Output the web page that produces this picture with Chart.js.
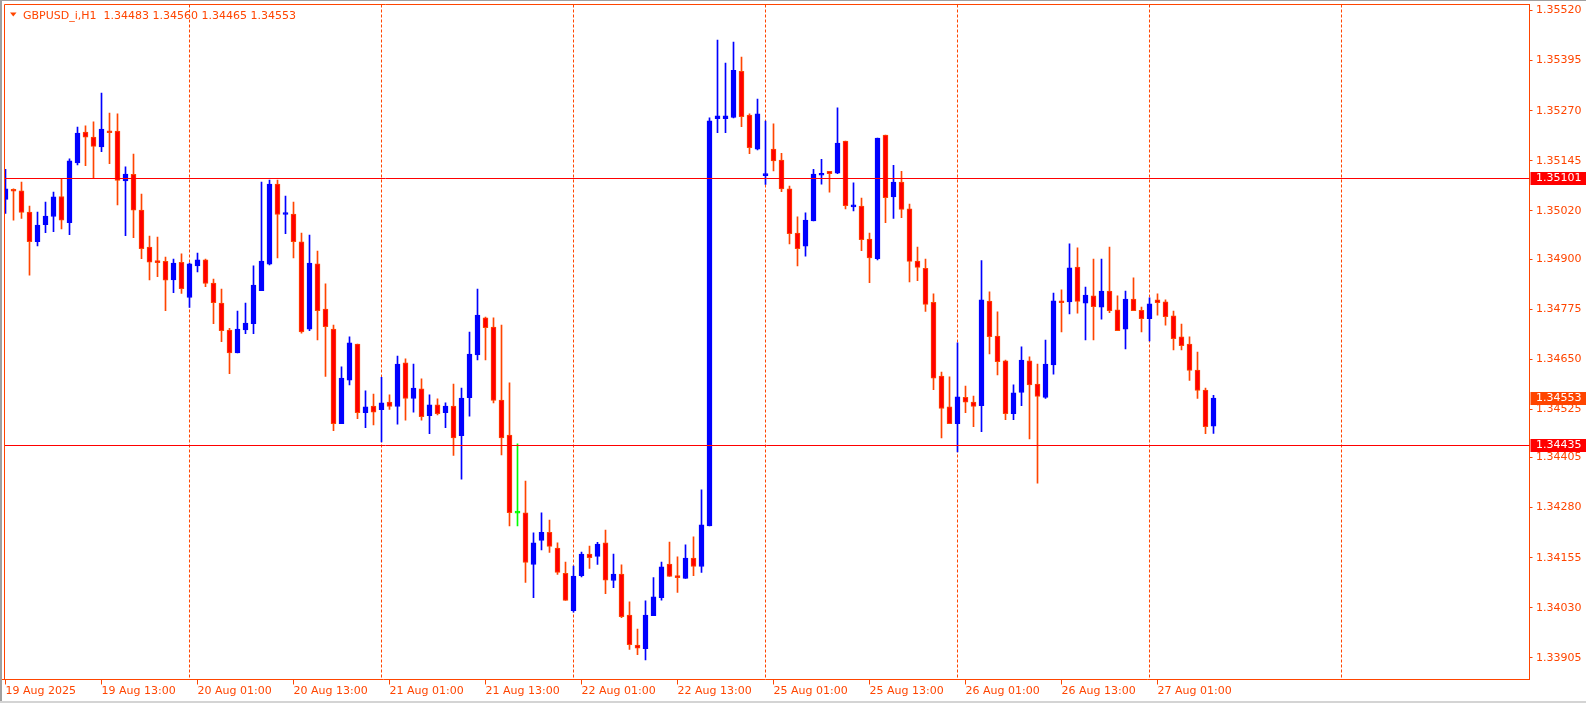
<!DOCTYPE html>
<html>
<head>
<meta charset="utf-8">
<script src="https://cdn.jsdelivr.net/npm/chart.js@4.4.1/dist/chart.umd.min.js"></script>
<style>
  html, body { margin: 0; padding: 0; background: #fff; overflow: hidden; }
</style>
</head>
<body>
<canvas id="chart" width="1586" height="703"></canvas>
<script>
// GBPUSD_i H1, 19 Aug 01:00 .. 27 Aug 08:00
const opens = [
  1.35049, 1.35072, 1.35070, 1.35017, 1.34943, 1.34986, 1.35006, 1.35056, 1.34991, 1.35140,
  1.35217, 1.35204, 1.35180, 1.35219, 1.35219, 1.35095, 1.35111, 1.35022, 1.34930, 1.34895,
  1.34894, 1.34848, 1.34892, 1.34804, 1.34883, 1.34898, 1.34840, 1.34790, 1.34723, 1.34666,
  1.34723, 1.34739, 1.34821, 1.34887, 1.35087, 1.35011, 1.35012, 1.34943, 1.34725, 1.34888,
  1.34775, 1.34725, 1.34489, 1.34598, 1.34688, 1.34517, 1.34533, 1.34524, 1.34543, 1.34532,
  1.34641, 1.34552, 1.34576, 1.34509, 1.34536, 1.34517, 1.34533, 1.34459, 1.34554, 1.34661,
  1.34753, 1.34730, 1.34548, 1.34461, 1.34266, 1.34267, 1.34138, 1.34198, 1.34218, 1.34179,
  1.34116, 1.34023, 1.34110, 1.34164, 1.34158, 1.34192, 1.34098, 1.34114, 1.34012, 1.33937,
  1.33928, 1.34010, 1.34055, 1.34139, 1.34110, 1.34103, 1.34154, 1.34133, 1.34234, 1.35250,
  1.35250, 1.35253, 1.35368, 1.35259, 1.35174, 1.35108, 1.35174, 1.35147, 1.35075, 1.34965,
  1.34932, 1.34995, 1.35109, 1.35119, 1.35114, 1.35194, 1.35030, 1.35032, 1.34950, 1.34901,
  1.35209, 1.35055, 1.35092, 1.35025, 1.34895, 1.34877, 1.34792, 1.34608, 1.34531, 1.34489,
  1.34555, 1.34543, 1.34534, 1.34795, 1.34708, 1.34646, 1.34514, 1.34567, 1.34646, 1.34588,
  1.34555, 1.34636, 1.34795, 1.34793, 1.34880, 1.34790, 1.34808, 1.34780, 1.34820, 1.34773,
  1.34725, 1.34800, 1.34772, 1.34751, 1.34798, 1.34793, 1.34758, 1.34706, 1.34688, 1.34623,
  1.34573, 1.34483
];
const highs = [
  1.35124, 1.35075, 1.35092, 1.35032, 1.35017, 1.35042, 1.35067, 1.35100, 1.35150, 1.35229,
  1.35232, 1.35242, 1.35314, 1.35264, 1.35262, 1.35130, 1.35162, 1.35062, 1.34957, 1.34955,
  1.34905, 1.34900, 1.34913, 1.34890, 1.34915, 1.34900, 1.34850, 1.34825, 1.34727, 1.34770,
  1.34790, 1.34883, 1.35092, 1.35097, 1.35097, 1.35057, 1.35042, 1.34965, 1.34960, 1.34920,
  1.34838, 1.34735, 1.34631, 1.34706, 1.34688, 1.34571, 1.34563, 1.34605, 1.34561, 1.34658,
  1.34651, 1.34638, 1.34601, 1.34561, 1.34551, 1.34541, 1.34588, 1.34578, 1.34718, 1.34825,
  1.34755, 1.34753, 1.34735, 1.34591, 1.34439, 1.34346, 1.34217, 1.34267, 1.34249, 1.34192,
  1.34144, 1.34134, 1.34169, 1.34184, 1.34193, 1.34224, 1.34164, 1.34137, 1.34045, 1.33977,
  1.34047, 1.34105, 1.34144, 1.34194, 1.34157, 1.34187, 1.34207, 1.34324, 1.35252, 1.35446,
  1.35389, 1.35441, 1.35404, 1.35262, 1.35299, 1.35244, 1.35237, 1.35164, 1.35082, 1.35005,
  1.35015, 1.35124, 1.35149, 1.35119, 1.35277, 1.35194, 1.35090, 1.35052, 1.34965, 1.35202,
  1.35209, 1.35134, 1.35119, 1.35037, 1.34930, 1.34900, 1.34813, 1.34618, 1.34606, 1.34691,
  1.34583, 1.34558, 1.34896, 1.34818, 1.34768, 1.34648, 1.34586, 1.34681, 1.34656, 1.34638,
  1.34698, 1.34815, 1.34823, 1.34938, 1.34928, 1.34830, 1.34900, 1.34900, 1.34930, 1.34808,
  1.34820, 1.34853, 1.34780, 1.34803, 1.34813, 1.34798, 1.34770, 1.34738, 1.34706, 1.34668,
  1.34578, 1.34560
];
const lows = [
  1.35014, 1.34997, 1.35001, 1.34860, 1.34933, 1.34966, 1.34968, 1.34975, 1.34961, 1.35135,
  1.35133, 1.35101, 1.35168, 1.35138, 1.35035, 1.34958, 1.34953, 1.34901, 1.34848, 1.34856,
  1.34771, 1.34816, 1.34814, 1.34779, 1.34868, 1.34831, 1.34739, 1.34694, 1.34614, 1.34666,
  1.34714, 1.34714, 1.34821, 1.34885, 1.34903, 1.34963, 1.34903, 1.34715, 1.34721, 1.34698,
  1.34607, 1.34472, 1.34489, 1.34586, 1.34502, 1.34479, 1.34486, 1.34444, 1.34525, 1.34488,
  1.34498, 1.34518, 1.34498, 1.34464, 1.34511, 1.34479, 1.34410, 1.34351, 1.34508, 1.34648,
  1.34648, 1.34541, 1.34411, 1.34234, 1.34234, 1.34093, 1.34055, 1.34174, 1.34168, 1.34113,
  1.34048, 1.34019, 1.34107, 1.34128, 1.34138, 1.34065, 1.34080, 1.34005, 1.33926, 1.33913,
  1.33900, 1.34010, 1.34049, 1.34108, 1.34068, 1.34103, 1.34110, 1.34118, 1.34234, 1.35215,
  1.35215, 1.35252, 1.35230, 1.35163, 1.35172, 1.35086, 1.35120, 1.35068, 1.34938, 1.34883,
  1.34907, 1.34995, 1.35087, 1.35067, 1.35113, 1.35025, 1.35020, 1.34921, 1.34841, 1.34898,
  1.34991, 1.35001, 1.35003, 1.34843, 1.34846, 1.34769, 1.34574, 1.34454, 1.34489, 1.34419,
  1.34517, 1.34482, 1.34469, 1.34663, 1.34611, 1.34499, 1.34499, 1.34534, 1.34451, 1.34341,
  1.34552, 1.34613, 1.34718, 1.34763, 1.34765, 1.34698, 1.34698, 1.34750, 1.34766, 1.34721,
  1.34676, 1.34771, 1.34718, 1.34696, 1.34760, 1.34735, 1.34673, 1.34673, 1.34597, 1.34552,
  1.34464, 1.34465
];
const closes = [
  1.35075, 1.35069, 1.35016, 1.34943, 1.34985, 1.35007, 1.35055, 1.34997, 1.35145, 1.35214,
  1.35204, 1.35181, 1.35224, 1.35215, 1.35096, 1.35112, 1.35022, 1.34926, 1.34892, 1.34891,
  1.34847, 1.34890, 1.34826, 1.34888, 1.34898, 1.34839, 1.34791, 1.34721, 1.34666, 1.34725,
  1.34740, 1.34835, 1.34895, 1.35087, 1.35011, 1.35013, 1.34943, 1.34718, 1.34890, 1.34771,
  1.34731, 1.34489, 1.34603, 1.34691, 1.34517, 1.34531, 1.34518, 1.34541, 1.34532, 1.34638,
  1.34552, 1.34578, 1.34507, 1.34536, 1.34514, 1.34533, 1.34454, 1.34553, 1.34663, 1.34760,
  1.34729, 1.34547, 1.34454, 1.34267, 1.34266, 1.34143, 1.34192, 1.34218, 1.34183, 1.34118,
  1.34048, 1.34109, 1.34164, 1.34155, 1.34189, 1.34099, 1.34114, 1.34008, 1.33938, 1.33929,
  1.34012, 1.34057, 1.34132, 1.34108, 1.34105, 1.34154, 1.34133, 1.34237, 1.35245, 1.35257,
  1.35257, 1.35371, 1.35255, 1.35178, 1.35262, 1.35112, 1.35145, 1.35075, 1.34963, 1.34926,
  1.34997, 1.35112, 1.35114, 1.35113, 1.35189, 1.35033, 1.35035, 1.34948, 1.34903, 1.35202,
  1.35053, 1.35092, 1.35024, 1.34894, 1.34879, 1.34787, 1.34603, 1.34527, 1.34489, 1.34556,
  1.34543, 1.34532, 1.34798, 1.34706, 1.34644, 1.34514, 1.34566, 1.34648, 1.34586, 1.34557,
  1.34638, 1.34796, 1.34791, 1.34878, 1.34794, 1.34810, 1.34781, 1.34820, 1.34771, 1.34721,
  1.34800, 1.34771, 1.34751, 1.34788, 1.34791, 1.34756, 1.34701, 1.34684, 1.34622, 1.34572,
  1.34482, 1.34553
];

const tradingDays = ['19 Aug', '20 Aug', '21 Aug', '22 Aug', '25 Aug', '26 Aug', '27 Aug', '28 Aug'];
const firstLabel = '19 Aug 2025';
const yTicks = [1.35520, 1.35395, 1.35270, 1.35145, 1.35020, 1.34900, 1.34775,
                1.34650, 1.34525, 1.34405, 1.34280, 1.34155, 1.34030, 1.33905];
const levels = [1.35101, 1.34435];
const lastPrice = 1.34553;
const title = 'GBPUSD_i,H1  1.34483 1.34560 1.34465 1.34553';

const fg = '#FF4500';
const bull = '#0000FF';
const bearFill = '#FF0000';
const dojiCol = '#00FF00';
const font = { family: 'DejaVu Sans', size: 11 };

// hourly slots, chart starts at 19 Aug 01:00
const times = [];
tradingDays.forEach((d, di) => {
  for (let h = di === 0 ? 1 : 0; h < 24; h++) times.push(d + ' ' + String(h).padStart(2, '0') + ':00');
});
const daySeps = times.map((t, i) => t.endsWith(' 00:00') ? i : -1).filter(i => i >= 0);

const kind = opens.map((o, i) => closes[i] > o ? 'up' : closes[i] < o ? 'down' : 'flat');
const bodyFill = kind.map(k => k === 'up' ? bull : k === 'down' ? bearFill : dojiCol);
const lineCol = kind.map(k => k === 'up' ? bull : k === 'down' ? fg : dojiCol);

const overlay = {
  id: 'overlay',
  beforeDatasetsDraw(chart) {
    const { ctx, chartArea: a, scales: { x } } = chart;
    ctx.save();
    ctx.strokeStyle = fg;
    ctx.lineWidth = 1;
    ctx.setLineDash([3, 2]);
    daySeps.forEach(i => {
      const px = x.getPixelForValue(i);
      ctx.beginPath();
      ctx.moveTo(px, a.top);
      ctx.lineTo(px, a.bottom);
      ctx.stroke();
    });
    ctx.restore();
  },
  afterDatasetsDraw(chart) {
    const { ctx, chartArea: a, scales: { y } } = chart;
    ctx.save();
    ctx.strokeStyle = '#FF0000';
    ctx.lineWidth = 1;
    levels.forEach(v => {
      const py = Math.floor(y.getPixelForValue(v)) + 0.5;
      ctx.beginPath();
      ctx.moveTo(4, py);
      ctx.lineTo(a.right, py);
      ctx.stroke();
    });
    ctx.restore();
  },
  afterDraw(chart) {
    const { ctx, chartArea: a, scales: { y } } = chart;
    ctx.save();
    // frame
    ctx.strokeStyle = fg;
    ctx.lineWidth = 1;
    ctx.beginPath();
    ctx.moveTo(4.5, a.bottom);
    ctx.lineTo(4.5, 4.5);
    ctx.lineTo(a.right, 4.5);
    ctx.stroke();
    // window edge
    ctx.fillStyle = '#a0a0a0';
    ctx.fillRect(0, 0, 2, 703);
    ctx.fillRect(0, 0, 1586, 1);
    ctx.fillStyle = '#d4d4d4';
    ctx.fillRect(0, 701, 1586, 2);

    // price tags on the axis
    ctx.font = '11px "DejaVu Sans"';
    ctx.textBaseline = 'middle';
    const tag = (v, col) => {
      const py = Math.floor(y.getPixelForValue(v));
      ctx.fillStyle = col;
      ctx.fillRect(a.right + 1, py - 6, 1586 - a.right, 13);
      ctx.fillStyle = '#FFFFFF';
      ctx.fillText(v.toFixed(5), 1536, py + 0.5);
    };
    levels.forEach(v => tag(v, '#FF0000'));
    tag(lastPrice, fg);

    // title
    ctx.fillStyle = fg;
    ctx.beginPath();
    ctx.moveTo(10, 12.5);
    ctx.lineTo(16.5, 12.5);
    ctx.lineTo(13.25, 16.5);
    ctx.closePath();
    ctx.fill();
    ctx.textBaseline = 'alphabetic';
    ctx.fillText(title, 23, 19);
    ctx.restore();
  }
};

new Chart(document.getElementById('chart'), {
  type: 'bar',
  data: {
    labels: times,
    datasets: [
      {
        data: opens.map((o, i) => [o, closes[i]]),
        backgroundColor: bodyFill,
        borderColor: lineCol,
        borderWidth: 1,
        borderSkipped: false,
        barThickness: 5,
        minBarLength: 2,
        grouped: false,
        order: 0,
        clip: { left: -3, top: 0, right: 0, bottom: 0 }
      },
      {
        data: lows.map((l, i) => [l, highs[i]]),
        backgroundColor: lineCol,
        borderWidth: 0,
        barThickness: 1,
        grouped: false,
        order: 1,
        clip: { left: -3, top: 0, right: 0, bottom: 0 }
      }
    ]
  },
  options: {
    responsive: false,
    animation: false,
    devicePixelRatio: 1,
    events: [],
    layout: { padding: { left: 1.5, top: 4.5, right: 0, bottom: 0 } },
    plugins: { legend: { display: false }, tooltip: { enabled: false } },
    scales: {
      x: {
        type: 'category',
        offset: true,
        afterBuildTicks: s => {
          s.ticks = s.ticks.filter(t => t.value % 12 === 0 && t.value < opens.length);
        },
        afterFit: s => {
          s.height = 23.5;
          s.paddingLeft = 0;
          s.paddingRight = 0;
        },
        ticks: {
          autoSkip: false,
          maxRotation: 0,
          minRotation: 0,
          align: 'start',
          padding: 0.5,
          color: fg,
          font: font,
          callback: v => v === 0 ? firstLabel : times[v]
        },
        grid: { offset: false, drawOnChartArea: false, tickLength: 5, color: fg },
        border: { color: fg }
      },
      y: {
        position: 'right',
        min: 1.33851,
        max: 1.35535,
        afterBuildTicks: s => { s.ticks = yTicks.map(v => ({ value: v })); },
        afterFit: s => {
          s.width = 56.5;
          s.paddingTop = 0;
          s.paddingBottom = 0;
        },
        ticks: {
          autoSkip: false,
          padding: 3.5,
          color: fg,
          font: font,
          callback: v => v.toFixed(5)
        },
        grid: { drawOnChartArea: false, tickLength: 3, color: fg },
        border: { color: fg }
      }
    }
  },
  plugins: [overlay]
});
</script>
</body>
</html>
